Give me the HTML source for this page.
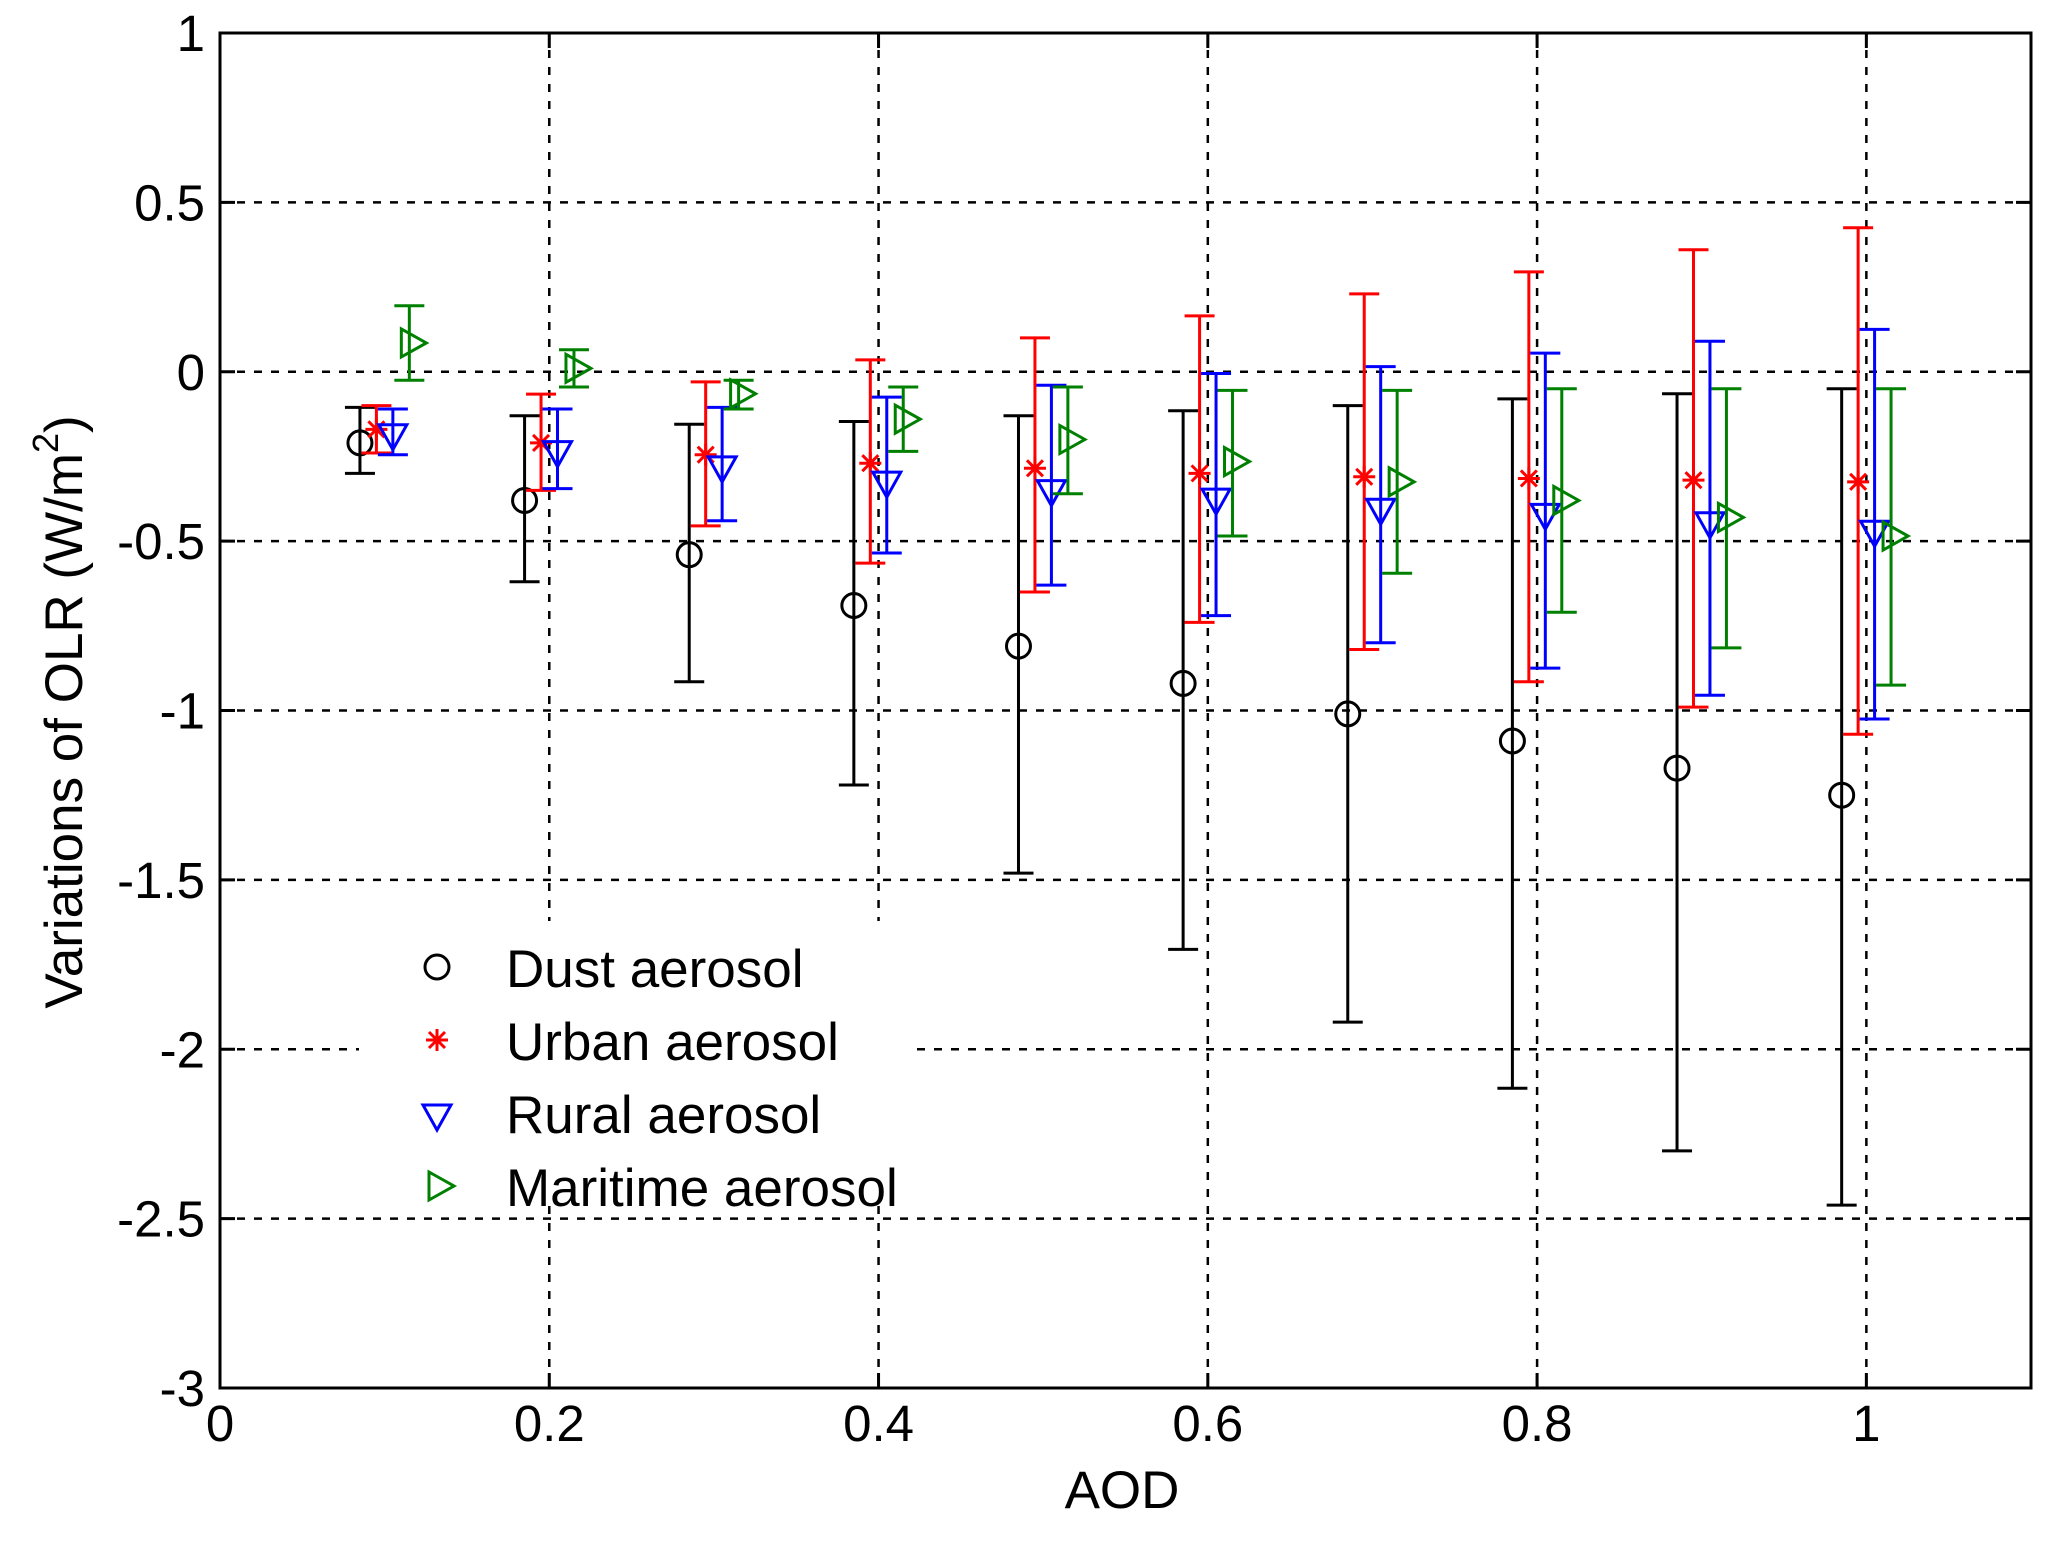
<!DOCTYPE html>
<html><head><meta charset="utf-8"><style>
html,body{margin:0;padding:0;background:#fff;}
svg{display:block;font-family:"Liberation Sans",Arial,sans-serif;}
</style></head><body>
<svg id="chart" width="2048" height="1541" viewBox="0 0 2048 1541" xmlns="http://www.w3.org/2000/svg">
<rect width="2048" height="1541" fill="#fff"/>
<g id="grid"></g>
<g id="marks"></g>
<g id="legend"></g>
<g id="axes"></g>
</svg>
<script>
const xTicks = [0, 0.2, 0.4, 0.6, 0.8, 1];
const xTickLabels = ["0", "0.2", "0.4", "0.6", "0.8", "1"];
const yTicks = [1, 0.5, 0, -0.5, -1, -1.5, -2, -2.5, -3];
const yTickLabels = ["1", "0.5", "0", "-0.5", "-1", "-1.5", "-2", "-2.5", "-3"];

const dustX = [0.085,0.185,0.285,0.385,0.485,0.585,0.685,0.785,0.885,0.985];
const dustY = [-0.21,-0.38,-0.54,-0.69,-0.81,-0.92,-1.01,-1.09,-1.17,-1.25];
const dustHi = [-0.105,-0.13,-0.155,-0.147,-0.13,-0.115,-0.10,-0.08,-0.065,-0.05];
const dustLo = [-0.30,-0.62,-0.915,-1.22,-1.48,-1.705,-1.92,-2.115,-2.30,-2.46];

const urbanX = [0.095,0.195,0.295,0.395,0.495,0.595,0.695,0.795,0.895,0.995];
const urbanY = [-0.17,-0.21,-0.245,-0.27,-0.285,-0.30,-0.31,-0.315,-0.32,-0.325];
const urbanHi = [-0.10,-0.066,-0.03,0.035,0.10,0.165,0.23,0.295,0.36,0.425];
const urbanLo = [-0.24,-0.35,-0.455,-0.565,-0.65,-0.74,-0.82,-0.915,-0.99,-1.07];

const ruralX = [0.105,0.205,0.305,0.405,0.505,0.605,0.705,0.805,0.905,1.005];
const ruralY = [-0.18,-0.23,-0.275,-0.32,-0.345,-0.37,-0.40,-0.415,-0.44,-0.465];
const ruralHi = [-0.11,-0.11,-0.105,-0.075,-0.04,-0.005,0.015,0.055,0.09,0.125];
const ruralLo = [-0.245,-0.345,-0.44,-0.535,-0.63,-0.72,-0.80,-0.875,-0.955,-1.025];

const marX = [0.115,0.215,0.315,0.415,0.515,0.615,0.715,0.815,0.915,1.015];
const marY = [0.085,0.01,-0.065,-0.14,-0.20,-0.265,-0.325,-0.38,-0.43,-0.485];
const marHi = [0.195,0.065,-0.025,-0.045,-0.045,-0.055,-0.055,-0.05,-0.05,-0.05];
const marLo = [-0.025,-0.045,-0.11,-0.235,-0.36,-0.485,-0.595,-0.71,-0.815,-0.925];

const L=220, R=2031, T=33, B=1388, XMAX=1.1, YMIN=-3, YMAX=1;
const sx = v => L + v/XMAX*(R-L);
const sy = v => T + (YMAX-v)/(YMAX-YMIN)*(B-T);
const NS="http://www.w3.org/2000/svg";
function mk(parent, tag, attrs){const e=document.createElementNS(NS,tag);for(const k in attrs)e.setAttribute(k,attrs[k]);parent.appendChild(e);return e;}

const grid=document.getElementById('grid');
xTicks.forEach((t,i)=>{ if(t===0) return;
  const l=mk(grid,'line',{x1:sx(t),x2:sx(t),y1:T,y2:B,stroke:'#000','stroke-width':2.5,'stroke-dasharray':'8,9'});
  
  
});
yTicks.forEach((t,i)=>{ if(t===YMAX||t===YMIN) return;
  const l=mk(grid,'line',{x1:L,x2:R,y1:sy(t),y2:sy(t),stroke:'#000','stroke-width':2.5,'stroke-dasharray':'8,9'});
  
  
});

const marks=document.getElementById('marks');
function errbar(g,x,lo,hi,color,name){
  const cx=sx(x), cw=15;
  const p=mk(g,'path',{d:`M${cx},${sy(hi)}V${sy(lo)}M${cx-cw},${sy(hi)}H${cx+cw}M${cx-cw},${sy(lo)}H${cx+cw}`,stroke:color,'stroke-width':3,fill:'none'});
  
  
}
function marker(g,type,cx,cy,color){
  let e;
  if(type==='circle') e=mk(g,'circle',{cx:cx,cy:cy,r:12,fill:'none',stroke:color,'stroke-width':3});
  else if(type==='star') e=mk(g,'path',{d:`M${cx-11},${cy}H${cx+11}M${cx},${cy-11}V${cy+11}M${cx-8},${cy-8}L${cx+8},${cy+8}M${cx-8},${cy+8}L${cx+8},${cy-8}`,stroke:color,'stroke-width':3,fill:'none'});
  else if(type==='tri') e=mk(g,'path',{d:`M${cx-14},${cy-8}H${cx+14}L${cx},${cy+17}Z`,stroke:color,'stroke-width':3,fill:'none'});
  else e=mk(g,'path',{d:`M${cx-8},${cy-14}V${cy+14}L${cx+17},${cy}Z`,stroke:color,'stroke-width':3,fill:'none'});
  return e;
}
const series=[
  {name:'dust',X:dustX,Y:dustY,Hi:dustHi,Lo:dustLo,c:'#000',m:'circle'},
  {name:'urban',X:urbanX,Y:urbanY,Hi:urbanHi,Lo:urbanLo,c:'#ff0000',m:'star'},
  {name:'rural',X:ruralX,Y:ruralY,Hi:ruralHi,Lo:ruralLo,c:'#0000ff',m:'tri'},
  {name:'maritime',X:marX,Y:marY,Hi:marHi,Lo:marLo,c:'#008000',m:'rtri'}
];
series.forEach(s=>{
  const g=mk(marks,'g',{});
  
  
  s.X.forEach((x,i)=>{
    errbar(g,x,s.Lo[i],s.Hi[i],s.c,s.name+'-errorbar');
    const m=marker(g,s.m,sx(x),sy(s.Y[i]),s.c);
    
    
  });
});

const legend=document.getElementById('legend');
const lb=mk(legend,'rect',{x:359,y:921,width:555,height:280,fill:'#fff'});


const legendLabels=['Dust aerosol','Urban aerosol','Rural aerosol','Maritime aerosol'];
series.forEach((s,i)=>{
  const by=987+i*73;
  const m=marker(legend,s.m,437,by-20,s.c);
  
  
  const t=mk(legend,'text',{x:506,y:by,'font-size':53,fill:'#000'});
  t.textContent=legendLabels[i];
  
  
});

const axes=document.getElementById('axes');
const fr=mk(axes,'rect',{x:L,y:T,width:R-L,height:B-T,fill:'none',stroke:'#000','stroke-width':3});


xTicks.forEach((t,i)=>{
  const tk=mk(axes,'path',{d:`M${sx(t)},${B}v-15M${sx(t)},${T}v15`,stroke:'#000','stroke-width':3});
  
  
  const tx=mk(axes,'text',{x:sx(t),y:1441,'font-size':51,'text-anchor':'middle',fill:'#000'});
  tx.textContent=xTickLabels[i];
  
  
});
yTicks.forEach((t,i)=>{
  const tk=mk(axes,'path',{d:`M${L},${sy(t)}h15M${R},${sy(t)}h-15`,stroke:'#000','stroke-width':3});
  
  
  const tx=mk(axes,'text',{x:205,y:sy(t)+18,'font-size':51,'text-anchor':'end',fill:'#000'});
  tx.textContent=yTickLabels[i];
  
  
});
const xt=mk(axes,'text',{x:1122,y:1508,'font-size':53,'text-anchor':'middle',fill:'#000'});
xt.textContent='AOD';


const yt=mk(axes,'text',{x:0,y:0,'font-size':53,'text-anchor':'middle',fill:'#000',transform:'translate(82,712) rotate(-90)'});
yt.innerHTML='Variations of OLR (W/m<tspan dy="-24" font-size="36">2</tspan><tspan dy="24">)</tspan>';


</script>
</body></html>
